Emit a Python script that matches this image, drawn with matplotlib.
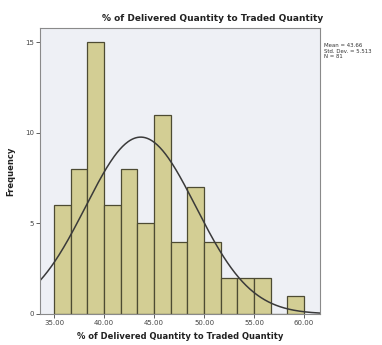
import numpy as np
import matplotlib.pyplot as plt

# histogram bins (width 5/3 starting at 35) and counts
bin_start = 35.0
bin_width = 5.0 / 3.0
counts = [6, 8, 15, 6, 8, 5, 11, 4, 7, 4, 2, 2, 2, 0, 1]
x_ticks = [35, 40, 45, 50, 55, 60]
y_ticks = [0, 5, 10, 15]

mean = 43.66
std = 5.513
n = 81

edges = bin_start + bin_width * np.arange(len(counts) + 1)

fig = plt.figure(figsize=(3.82, 3.45), dpi=100)
fig.patch.set_facecolor('white')
ax = fig.add_axes([0.105, 0.09, 0.733, 0.829])
ax.set_facecolor('#eef0f5')

ax.bar(edges[:-1], counts, width=bin_width, align='edge',
       color='#d3ce94', edgecolor='#4d4b33', linewidth=0.9)

xs = np.linspace(33.6, 61.6, 300)
ys = n * bin_width / (std * np.sqrt(2 * np.pi)) * np.exp(-0.5 * ((xs - mean) / std) ** 2)
ax.plot(xs, ys, color='#3a3a3a', linewidth=1.1)

ax.set_xlim(33.6, 61.6)
ax.set_ylim(0, 15.8)
ax.set_xticks(x_ticks)
ax.set_xticklabels(['%.2f' % v for v in x_ticks])
ax.set_yticks(y_ticks)
ax.tick_params(labelsize=5, length=3, width=0.6, colors='#444444', pad=1.5)

for s in ax.spines.values():
    s.set_color('#8a8a8a')
    s.set_linewidth(0.8)

# title sits a bit right of centre in the original
fig.text(0.557, 0.945, '% of Delivered Quantity to Traded Quantity', fontsize=6.5,
         fontweight='bold', ha='center', va='center', color='#222222')
ax.set_xlabel('% of Delivered Quantity to Traded Quantity', fontsize=6,
              fontweight='bold', labelpad=4, color='#222222')
ax.set_ylabel('Frequency', fontsize=6, fontweight='bold', labelpad=12,
              color='#222222')
ax.yaxis.set_label_coords(-0.09, 0.5)

fig.text(0.848, 0.875, 'Mean = %.2f\nStd. Dev. = %.3f\nN = %d' % (mean, std, n),
         fontsize=3.9, va='top', ha='left', color='#333333', linespacing=1.15)

fig.savefig('out.png', dpi=100)
